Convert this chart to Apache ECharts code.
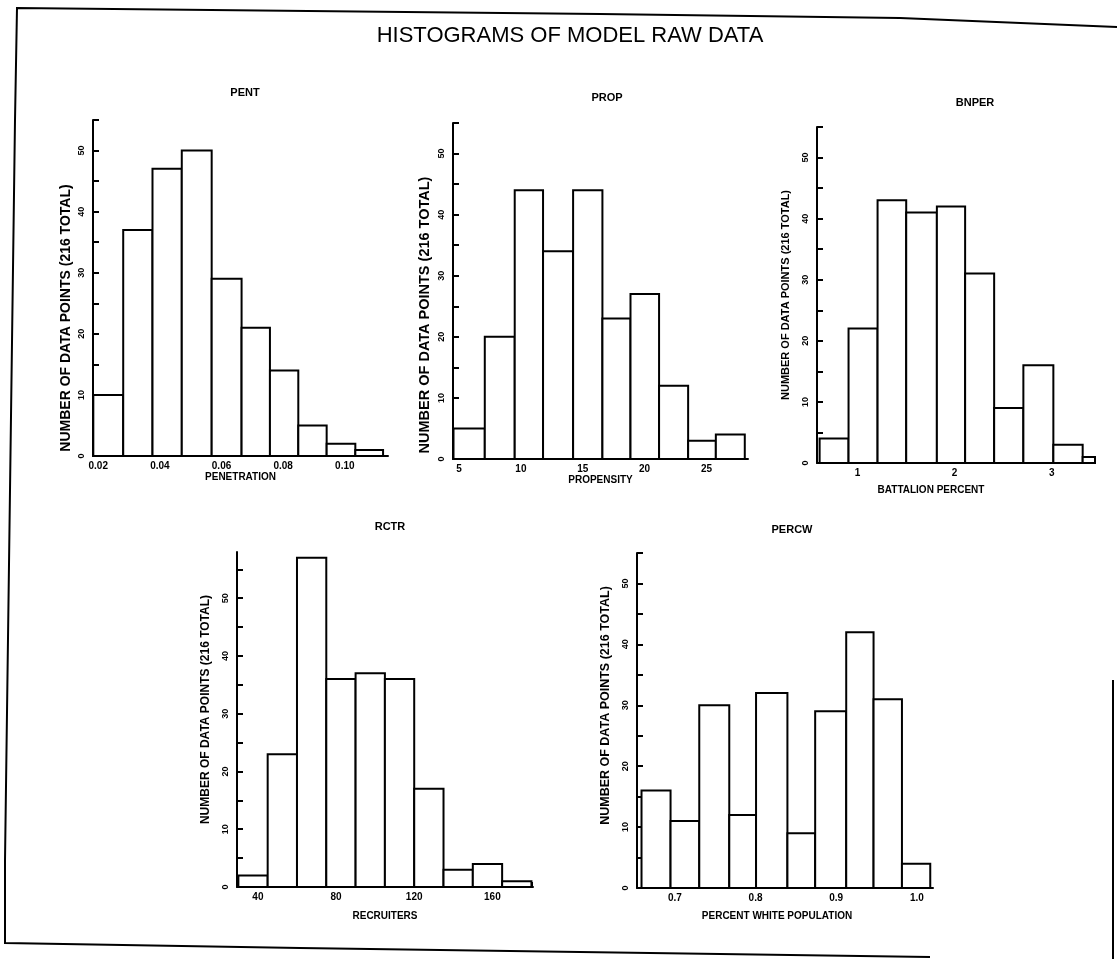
<!DOCTYPE html>
<html>
<head>
<meta charset="utf-8">
<script src="https://cdn.jsdelivr.net/npm/echarts@6/dist/echarts.min.js"></script>
<style>html,body{margin:0;padding:0;background:#fff}#c{width:1117px;height:959px}</style>
</head>
<body>
<div id="c"></div>
<script>
// ---- data ----
var pentEdges  = [0.0184,0.0281,0.0376,0.0471,0.0568,0.0665,0.0757,0.0849,0.0941,0.1034,0.1124];
var pentCounts = [10,37,47,50,29,21,14,5,2,1];
var pentTicks  = [0.02,0.03,0.04,0.05,0.06,0.07,0.08,0.09,0.10,0.11];
var pentLabels = [0.02,0.04,0.06,0.08,0.10];

var propEdges  = [4.55,7.08,9.50,11.79,14.22,16.59,18.86,21.17,23.52,25.76,28.10];
var propCounts = [5,20,44,34,44,23,27,12,3,4];
var propTicks  = [5,7.5,10,12.5,15,17.5,20,22.5,25,27.5];
var propLabels = [5,10,15,20,25];

var bnperEdges  = [0.609,0.907,1.206,1.501,1.817,2.108,2.407,2.708,3.017,3.319,3.446];
var bnperCounts = [4,22,43,41,42,31,9,16,3,1];
var bnperTicks  = [1,1.5,2,2.5,3];
var bnperLabels = [1,2,3];

var rctrEdges  = [30,45,60,75,90,105,120,135,150,165,180];
var rctrCounts = [2,23,57,36,37,36,17,3,4,1];
var rctrTicks  = [40,60,80,100,120,140,160,180];
var rctrLabels = [40,80,120,160];

var percwEdges  = [0.6586,0.6946,0.7302,0.7674,0.8006,0.8395,0.8739,0.9124,0.9463,0.9815,1.0166];
var percwCounts = [16,11,30,12,32,9,29,42,31,4];
var percwTicks  = [0.7,0.75,0.8,0.85,0.9,0.95,1.0];
var percwLabels = [0.7,0.8,0.9,1.0];

var yTicks  = [0,5,10,15,20,25,30,35,40,45,50,55];
var yLabels = [0,10,20,30,40,50];

var mainTitle = 'HISTOGRAMS OF MODEL RAW DATA';
var yName = 'NUMBER OF DATA POINTS (216 TOTAL)';

// nameShift: + moves the y-axis name down, - moves it up
var panels = [
  {title:'PENT', xName:'PENETRATION', edges:pentEdges, counts:pentCounts, ticks:pentTicks, labels:pentLabels, digits:2,
   grid:{left:93, top:120, width:295, height:336}, xMin:0.0183, xMax:0.114, yMax:55, yGap:20, xGap:16, tx:245, ty:93, namePad:0,
   nameSize:14, nameShift:30},
  {title:'PROP', xName:'PROPENSITY', edges:propEdges, counts:propCounts, ticks:propTicks, labels:propLabels, digits:0,
   grid:{left:453, top:123, width:295, height:336}, xMin:4.51, xMax:28.36, yMax:55, yGap:21, xGap:16, tx:607, ty:98, namePad:0,
   nameSize:14.5, nameShift:24},
  {title:'BNPER', xName:'BATTALION PERCENT', edges:bnperEdges, counts:bnperCounts, ticks:bnperTicks, labels:bnperLabels, digits:0,
   grid:{left:817, top:127, width:278, height:336}, xMin:0.582, xMax:3.446, yMax:55, yGap:26, xGap:22, tx:975, ty:103, namePad:50,
   nameSize:11, nameShift:0},
  {title:'RCTR', xName:'RECRUITERS', edges:rctrEdges, counts:rctrCounts, ticks:rctrTicks, labels:rctrLabels, digits:0,
   grid:{left:237, top:552, width:296, height:335}, xMin:29.3, xMax:180.8, yMax:58, yGap:25, xGap:24, tx:390, ty:527, namePad:0,
   nameSize:12, nameShift:-10},
  {title:'PERCW', xName:'PERCENT WHITE POPULATION', edges:percwEdges, counts:percwCounts, ticks:percwTicks, labels:percwLabels, digits:1,
   grid:{left:637, top:553, width:296, height:335}, xMin:0.653, xMax:1.020, yMax:55, yGap:25, xGap:23, tx:792, ty:530, namePad:16,
   nameSize:12.5, nameShift:-15}
];

var FONT = 'Liberation Sans';
var grids = [], xAxes = [], yAxes = [], series = [], graphics = [];

panels.forEach(function(p, i){
  grids.push(p.grid);
  var d = p.digits;
  var sh = p.nameShift;
  var yPad = sh >= 0 ? [0, 2*sh, 0, 0] : [0, 0, 0, -2*sh];
  xAxes.push({
    type:'value', gridIndex:i, min:p.xMin, max:p.xMax,
    name:p.xName, nameLocation:'middle', nameGap:p.xGap,
    nameTextStyle:{fontFamily:FONT, fontWeight:'bold', fontSize:10, color:'#000', padding:[0,p.namePad,0,0]},
    axisLine:{show:true, onZero:false, lineStyle:{color:'#000', width:2}},
    axisTick:{show:true, inside:true, length:5, customValues:p.ticks, lineStyle:{color:'#000', width:2}},
    axisLabel:{show:true, margin:5, customValues:p.labels, fontFamily:FONT, fontWeight:'bold', fontSize:10, color:'#000',
      formatter:function(v){ return Number(v).toFixed(d); }},
    splitLine:{show:false}
  });
  yAxes.push({
    type:'value', gridIndex:i, min:0, max:p.yMax,
    name:yName, nameLocation:'middle', nameGap:p.yGap,
    nameTextStyle:{fontFamily:FONT, fontWeight:'bold', fontSize:p.nameSize, color:'#000', padding:yPad},
    axisLine:{show:true, lineStyle:{color:'#000', width:2}},
    axisTick:{show:true, inside:true, length:6, customValues:yTicks, lineStyle:{color:'#000', width:2}},
    axisLabel:{show:true, rotate:90, margin:7, customValues:yLabels, fontFamily:FONT, fontWeight:'bold', fontSize:9, color:'#000'},
    splitLine:{show:false}
  });
  var data = p.counts.map(function(c, k){ return [p.edges[k], p.edges[k+1], c]; });
  series.push({
    type:'custom', xAxisIndex:i, yAxisIndex:i, data:data,
    encode:{x:[0,1], y:2}, z:3, silent:true,
    renderItem:function(params, api){
      var p0 = api.coord([api.value(0), 0]);
      var p1 = api.coord([api.value(1), api.value(2)]);
      return {type:'rect', shape:{x:p0[0], y:p1[1], width:p1[0]-p0[0], height:p0[1]-p1[1]},
        style:{fill:'#fff', stroke:'#000', lineWidth:2}};
    }
  });
  graphics.push({type:'text', x:p.tx, y:p.ty,
    style:{text:p.title, fontFamily:FONT, fontWeight:'bold', fontSize:11, fill:'#000',
      align:'center', verticalAlign:'middle', textAlign:'center', textVerticalAlign:'middle'}});
});

graphics.push({type:'text', x:570, y:36,
  style:{text:mainTitle, fontFamily:FONT, fontWeight:'normal', fontSize:22, fill:'#000',
    align:'center', verticalAlign:'middle', textAlign:'center', textVerticalAlign:'middle'}});
graphics.push({type:'polyline', shape:{points:[[1117,27],[900,18],[600,14],[17,8],[15,120],[5,860],[5,943],[300,948],[930,957]]},
  style:{stroke:'#000', lineWidth:2, fill:null}});
graphics.push({type:'line', shape:{x1:1113, y1:680, x2:1113, y2:959}, style:{stroke:'#000', lineWidth:2}});

var chart = echarts.init(document.getElementById('c'), null, {renderer:'canvas'});
chart.setOption({
  animation:false,
  backgroundColor:'#fff',
  grid:grids, xAxis:xAxes, yAxis:yAxes, series:series,
  graphic:graphics
});
</script>
</body>
</html>
